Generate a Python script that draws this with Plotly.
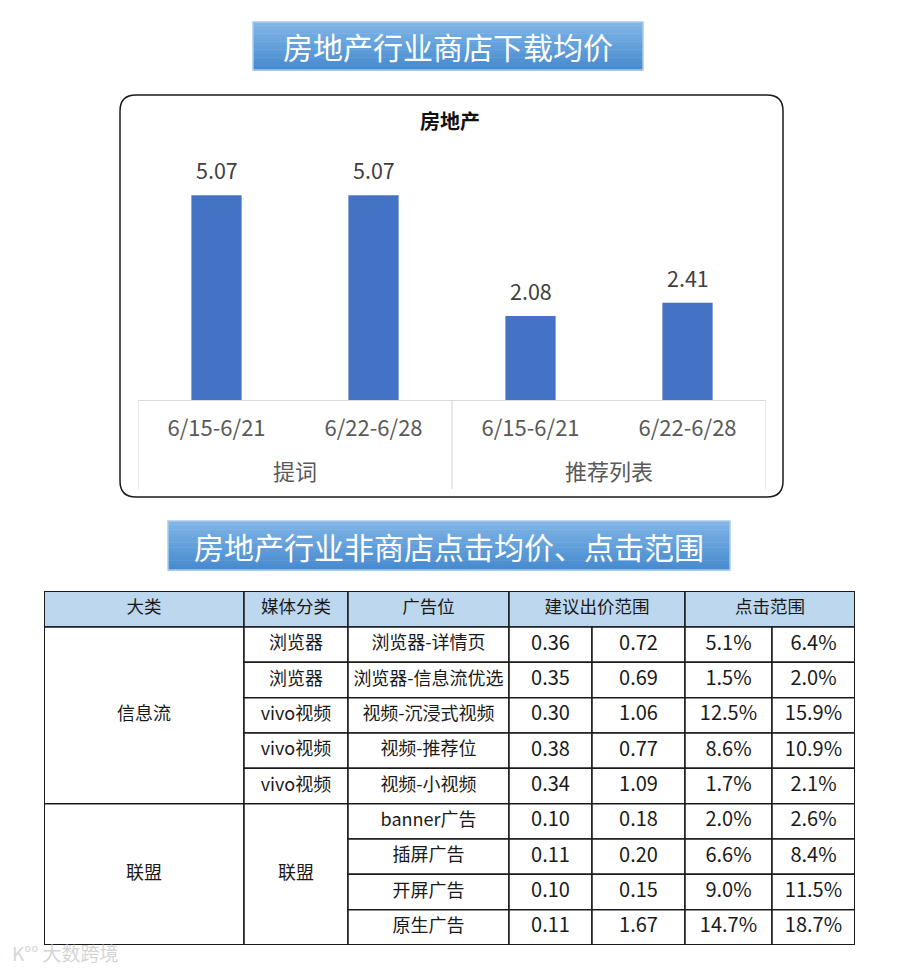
import plotly.graph_objects as go

# ---------------- data ----------------
chart_title = "房地产"
banner1 = "房地产行业商店下载均价"
banner2 = "房地产行业非商店点击均价、点击范围"

groups = ["提词", "提词", "推荐列表", "推荐列表"]
periods = ["6/15-6/21", "6/22-6/28", "6/15-6/21", "6/22-6/28"]
avg_price = [5.07, 5.07, 2.08, 2.41]

header = ["大类", "媒体分类", "广告位", "建议出价范围", "点击范围"]
big_cat = ["信息流", "联盟"]
big_cat_rows = [5, 4]
media = ["浏览器", "浏览器", "vivo视频", "vivo视频", "vivo视频", "联盟"]
media_rows = [1, 1, 1, 1, 1, 4]
ad_slot = ["浏览器-详情页", "浏览器-信息流优选", "视频-沉浸式视频", "视频-推荐位", "视频-小视频",
           "banner广告", "插屏广告", "开屏广告", "原生广告"]
bid_low = [0.36, 0.35, 0.30, 0.38, 0.34, 0.10, 0.11, 0.10, 0.11]
bid_high = [0.72, 0.69, 1.06, 0.77, 1.09, 0.18, 0.20, 0.15, 1.67]
ctr_low = [5.1, 1.5, 12.5, 8.6, 1.7, 2.0, 6.6, 9.0, 14.7]
ctr_high = [6.4, 2.0, 15.9, 10.9, 2.1, 2.6, 8.4, 11.5, 18.7]

# ---------------- layout helpers ----------------
W, H = 900, 968
FONT = "Noto Sans CJK SC, Noto Sans, sans-serif"


def px(x):
    return x / W


def py(y):
    return 1 - y / H


shapes = []
annotations = []


def banner(x0, y0, x1, y1, text, size):
    n = 30
    top = (128, 181, 230)
    bot = (70, 138, 207)
    for i in range(n):
        t = i / (n - 1)
        c = tuple(int(round(top[k] + (bot[k] - top[k]) * t)) for k in range(3))
        ya = y0 + (y1 - y0) * i / n
        yb = y0 + (y1 - y0) * (i + 1) / n
        shapes.append(dict(type="rect", xref="paper", yref="paper",
                           x0=px(x0), x1=px(x1), y0=py(ya), y1=py(yb + 0.6),
                           fillcolor="rgb(%d,%d,%d)" % c, line=dict(width=0), layer="below"))
    shapes.append(dict(type="rect", xref="paper", yref="paper",
                       x0=px(x0), x1=px(x1), y0=py(y0), y1=py(y1),
                       fillcolor="rgba(0,0,0,0)", line=dict(color="#a8cbec", width=1.5)))
    annotations.append(dict(text=text, xref="paper", yref="paper", x=px((x0 + x1) / 2),
                            y=py((y0 + y1) / 2), showarrow=False,
                            font=dict(size=size, color="white", family=FONT),
                            xanchor="center", yanchor="middle"))


banner(253, 22, 643, 70, banner1, 30)
banner(168, 521, 730, 570, banner2, 30)

# rounded chart box
bx0, by0, bx1, by1, r = 120, 95, 783, 497, 16
path = (f"M {px(bx0 + r)},{py(by0)} L {px(bx1 - r)},{py(by0)} "
        f"Q {px(bx1)},{py(by0)} {px(bx1)},{py(by0 + r)} "
        f"L {px(bx1)},{py(by1 - r)} Q {px(bx1)},{py(by1)} {px(bx1 - r)},{py(by1)} "
        f"L {px(bx0 + r)},{py(by1)} Q {px(bx0)},{py(by1)} {px(bx0)},{py(by1 - r)} "
        f"L {px(bx0)},{py(by0 + r)} Q {px(bx0)},{py(by0)} {px(bx0 + r)},{py(by0)} Z")
shapes.append(dict(type="path", xref="paper", yref="paper", path=path,
                   line=dict(color="#1a1a1a", width=1.5), fillcolor="rgba(0,0,0,0)"))

annotations.append(dict(text="<b>" + chart_title + "</b>", xref="paper", yref="paper",
                        x=px(450), y=py(120), showarrow=False, yanchor="middle",
                        font=dict(size=20, color="#111111", family=FONT)))

# ---------------- bar chart ----------------
xs = list(range(len(avg_price)))
fig = go.Figure()
fig.add_trace(go.Bar(x=xs, y=avg_price, width=0.32, marker=dict(color="#4472C4", line=dict(width=0)),
                     hoverinfo="skip", showlegend=False, xaxis="x", yaxis="y"))
for xi, v in zip(xs, avg_price):
    annotations.append(dict(text=f"{v:.2f}", xref="x", yref="y", x=xi, y=v, yanchor="bottom",
                            yshift=8, showarrow=False,
                            font=dict(size=21.5, color="#404040", family=FONT)))

# group labels and separators
uniq = []
for g in groups:
    if g not in uniq:
        uniq.append(g)
bounds = [-0.5]
for g in uniq:
    idx = [i for i, gg in enumerate(groups) if gg == g]
    annotations.append(dict(text=g, xref="x", yref="paper", x=sum(idx) / len(idx), y=py(470),
                            yanchor="middle", showarrow=False,
                            font=dict(size=22, color="#595959", family=FONT)))
    bounds.append(max(idx) + 0.5)
for b in bounds:
    shapes.append(dict(type="line", xref="x", yref="paper", x0=b, x1=b, y0=py(400), y1=py(489),
                       line=dict(color="#d9d9d9", width=1.2)))

# ---------------- table ----------------
col_edges = [44, 244, 348, 509, 592, 685, 772, 855]
t_top, h_bot, t_bot = 591, 627, 945
nrows = len(ad_slot)
rh = (t_bot - h_bot) / nrows
row_edges = [h_bot + i * rh for i in range(nrows + 1)]

tx, ty, tt, ts = [], [], [], []
CJK_SIZE, NUM_SIZE = 18, 20


def cell(c0, c1, r0, r1, text, size, fill="white"):
    shapes.append(dict(type="rect", xref="x2", yref="y2", x0=col_edges[c0], x1=col_edges[c1],
                       y0=r0, y1=r1, fillcolor=fill, line=dict(color="#1a1a1a", width=1.5),
                       layer="below"))
    tx.append((col_edges[c0] + col_edges[c1]) / 2)
    ty.append((r0 + r1) / 2)
    tt.append(text)
    ts.append(size)


hdr_cols = [(0, 1), (1, 2), (2, 3), (3, 5), (5, 7)]
for (c0, c1), h in zip(hdr_cols, header):
    cell(c0, c1, t_top, h_bot, h, 17.5, fill="#BDD7EE")

r = 0
for name, n in zip(big_cat, big_cat_rows):
    cell(0, 1, row_edges[r], row_edges[r + n], name, CJK_SIZE)
    r += n
r = 0
for name, n in zip(media, media_rows):
    cell(1, 2, row_edges[r], row_edges[r + n], name, CJK_SIZE)
    r += n
for i in range(nrows):
    a, b = row_edges[i], row_edges[i + 1]
    cell(2, 3, a, b, ad_slot[i], CJK_SIZE)
    cell(3, 4, a, b, f"{bid_low[i]:.2f}", NUM_SIZE)
    cell(4, 5, a, b, f"{bid_high[i]:.2f}", NUM_SIZE)
    cell(5, 6, a, b, f"{ctr_low[i]:.1f}%", NUM_SIZE)
    cell(6, 7, a, b, f"{ctr_high[i]:.1f}%", NUM_SIZE)

shapes.append(dict(type="rect", xref="x2", yref="y2", x0=col_edges[0], x1=col_edges[-1],
                   y0=t_top, y1=t_bot, fillcolor="rgba(0,0,0,0)",
                   line=dict(color="#1a1a1a", width=2)))

fig.add_trace(go.Scatter(x=tx, y=ty, text=tt, mode="text",
                         textfont=dict(size=ts, color="#1a1a1a", family=FONT),
                         textposition="middle center", hoverinfo="skip", showlegend=False,
                         xaxis="x2", yaxis="y2", cliponaxis=False))

# watermark
annotations.append(dict(text="K°° 大数跨境", xref="paper", yref="paper", x=px(10), y=py(952),
                        xanchor="left", yanchor="middle", showarrow=False,
                        font=dict(size=19, color="rgba(205,205,205,0.85)", family=FONT)))

ymax = (400 - 150) / 40.4
fig.update_layout(
    width=W, height=H, margin=dict(l=0, r=0, t=0, b=0),
    paper_bgcolor="white", plot_bgcolor="rgba(0,0,0,0)",
    font=dict(family=FONT),
    xaxis=dict(domain=[px(138), px(766)], range=[-0.5, len(xs) - 0.5],
               tickvals=xs, ticktext=periods, ticks="", showgrid=False, zeroline=False,
               showline=True, linecolor="#d9d9d9", linewidth=1.2,
               tickfont=dict(size=22, color="#595959", family=FONT), ticklabelstandoff=8,
               fixedrange=True),
    yaxis=dict(domain=[py(400), py(150)], range=[0, ymax], visible=False, fixedrange=True),
    xaxis2=dict(domain=[px(col_edges[0]), px(col_edges[-1])], range=[col_edges[0], col_edges[-1]],
                visible=False, fixedrange=True),
    yaxis2=dict(domain=[py(t_bot), py(t_top)], range=[t_bot, t_top], visible=False, fixedrange=True),
    shapes=shapes, annotations=annotations, showlegend=False,
)

fig.write_html("out.html")
